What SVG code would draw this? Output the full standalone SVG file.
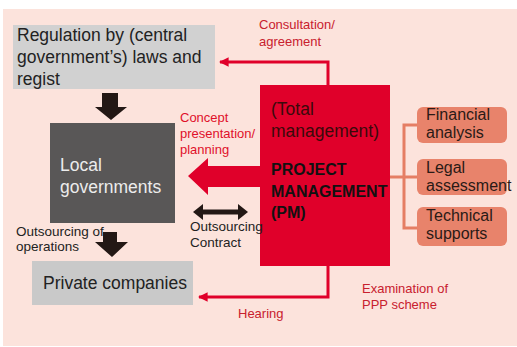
<svg xmlns="http://www.w3.org/2000/svg" width="517" height="347" viewBox="0 0 517 347">
<defs>
<style>
text{font-family:"Liberation Sans",Arial,sans-serif}
.lbl{font-size:17.5px;fill:#222}
.red{font-size:13px;fill:#c8202e}
.red2{font-size:13px;fill:#e0102a}
.blk{font-size:13.5px;fill:#222}
.side{fill:#e8836b}
.sidet{font-size:16px;fill:#2a1a16}
.rline{fill:none;stroke:#e0002a;stroke-width:3}
.sline{fill:none;stroke:#e57e64;stroke-width:3}
.darr{fill:#231815}
</style>
<marker id="rh" viewBox="0 0 10 10" refX="9" refY="5" markerWidth="3.2" markerHeight="3.2" orient="auto" markerUnits="strokeWidth">
<path d="M0,0 L10,5 L0,10 z" fill="#e0002a"/>
</marker>
</defs>
<rect x="3" y="9" width="514" height="337" fill="#fce3dc"/>

<g id="connectors">
<polyline class="rline" points="328,85 328,62 220,62" marker-end="url(#rh)"/>
<polyline class="rline" points="328,266 328,297 199,297" marker-end="url(#rh)"/>
<polygon fill="#e0002a" points="188,176 208,158 208,166 262,166 262,187 208,187 208,195"/>
<polygon class="darr" points="102,93 118,93 118,107 127,107 111,120 95,107 102,107"/>
<polygon class="darr" points="103,232 117,232 117,242 128,242 112,257 95,242 103,242"/>
<polygon class="darr" points="193,212 203,204 203,209.5 238,209.5 238,204 248,212 238,220 238,214.5 203,214.5 203,220"/>
<polyline class="sline" points="390,177 404,177"/>
<polyline class="sline" points="417,125 404,125 404,228 417,228"/>
<polyline class="sline" points="404,177 417,177"/>
</g>

<g id="regulation">
<rect x="13" y="25" width="202" height="64" fill="#d1d1d1"/>
<text class="lbl" x="17" y="41">Regulation by (central</text>
<text class="lbl" x="17" y="63">government’s) laws and</text>
<text class="lbl" x="17" y="85">regist</text>
</g>

<g id="local">
<rect x="50" y="123" width="125" height="100" fill="#595757"/>
<text class="lbl" x="60" y="171" style="fill:#ececec">Local</text>
<text class="lbl" x="60" y="193" style="fill:#ececec">governments</text>
</g>

<g id="private">
<rect x="32" y="261" width="161" height="44" fill="#c9c9c9"/>
<text class="lbl" x="43" y="289">Private companies</text>
</g>

<g id="pm">
<rect x="260" y="85" width="130" height="181" fill="#e0002a"/>
<text x="271" y="115" style="font-size:17.5px;fill:#3a0a0a">(Total</text>
<text x="271" y="137" style="font-size:17.5px;fill:#3a0a0a">management)</text>
<text x="271" y="175" style="font-size:16px;font-weight:bold;fill:#111">PROJECT</text>
<text x="271" y="197" style="font-size:16px;font-weight:bold;fill:#111">MANAGEMENT</text>
<text x="271" y="218" style="font-size:16px;font-weight:bold;fill:#111">(PM)</text>
</g>

<g id="financial">
<rect class="side" x="417" y="107" width="90" height="36" rx="6"/>
<text class="sidet" x="426" y="120">Financial</text>
<text class="sidet" x="426" y="138">analysis</text>
</g>
<g id="legal">
<rect class="side" x="417" y="159" width="90" height="36" rx="6"/>
<text class="sidet" x="426" y="173">Legal</text>
<text class="sidet" x="426" y="191">assessment</text>
</g>
<g id="technical">
<rect class="side" x="417" y="207" width="90" height="39" rx="6"/>
<text class="sidet" x="426" y="221">Technical</text>
<text class="sidet" x="426" y="239">supports</text>
</g>

<g id="labels">
<text class="red" x="259" y="29">Consultation/</text>
<text class="red" x="259" y="46">agreement</text>
<text class="red2" x="180" y="122">Concept</text>
<text class="red2" x="180" y="138">presentation/</text>
<text class="red2" x="180" y="154">planning</text>
<text class="blk" x="16" y="236">Outsourcing of</text>
<text class="blk" x="16" y="251">operations</text>
<text class="blk" x="190" y="231">Outsourcing</text>
<text class="blk" x="190" y="247">Contract</text>
<text class="red" x="238" y="318">Hearing</text>
<text class="red" x="362" y="293">Examination of</text>
<text class="red" x="362" y="309">PPP scheme</text>
</g>
</svg>
